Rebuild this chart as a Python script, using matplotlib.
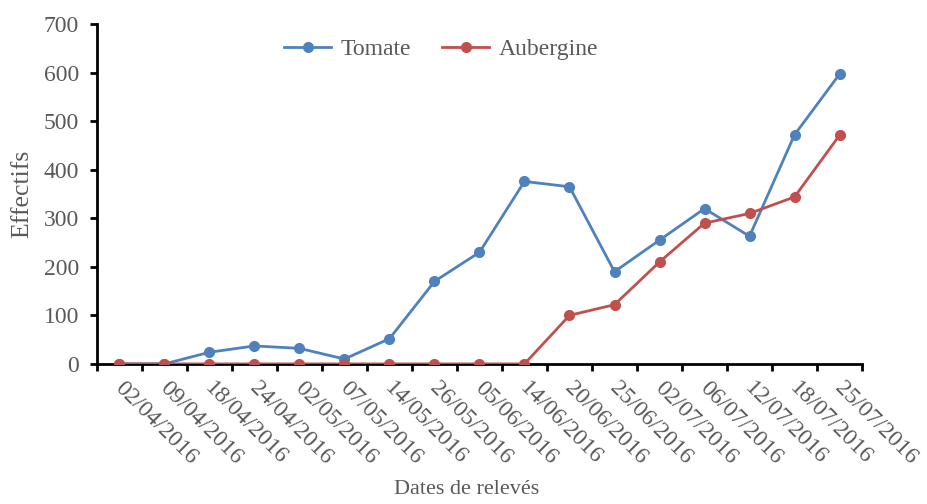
import matplotlib
matplotlib.use("Agg")
import matplotlib.pyplot as plt
import matplotlib.transforms as mtransforms
import numpy as np

dates = ["02/04/2016", "09/04/2016", "18/04/2016", "24/04/2016", "02/05/2016",
         "07/05/2016", "14/05/2016", "26/05/2016", "05/06/2016", "14/06/2016",
         "20/06/2016", "25/06/2016", "02/07/2016", "06/07/2016", "12/07/2016",
         "18/07/2016", "25/07/2016"]
tomate = [0, 0, 24, 37, 32, 10, 52, 170, 230, 376, 365, 190, 255, 320, 263, 472, 597]
aubergine = [0, 0, 0, 0, 0, 0, 0, 0, 0, 0, 100, 122, 210, 290, 310, 344, 471]
y_ticks = [0, 100, 200, 300, 400, 500, 600, 700]

plt.rcParams["font.family"] = ["Liberation Serif", "DejaVu Serif"]
grey = "#595959"

fig = plt.figure(figsize=(9.27, 5.04), dpi=100)
ax = fig.add_axes([0.1046, 0.278, 0.8253, 0.674])

x = np.arange(len(dates))
ax.plot(x, tomate, color="#4F81BD", lw=2, marker="o", ms=7, label="Tomate", zorder=3)
ax.plot(x, aubergine, color="#C0504D", lw=2, marker="o", ms=7, label="Aubergine", zorder=3)

ax.set_xlim(-0.5, len(dates) - 0.5)
ax.set_ylim(0, 700)
ax.set_yticks(y_ticks)
ax.set_yticklabels([str(v) for v in y_ticks], fontsize=17, color=grey)

ax.set_xticks(np.arange(len(dates) + 1) - 0.5)
ax.set_xticklabels([])
ax.set_xticks(x, minor=True)
ax.set_xticklabels(dates, minor=True, rotation=-45, ha="left", va="top",
                   rotation_mode="anchor", fontsize=17, color=grey)
ax.tick_params(axis="x", which="minor", length=0, pad=10)
ax.tick_params(axis="x", which="major", length=5, width=2, direction="out", color="black")
ax.tick_params(axis="y", length=5, width=2, direction="out", color="black", pad=8)

# nudge the rotated date labels to the right of each category centre
shift = mtransforms.ScaledTranslation(6 / 100, 0, fig.dpi_scale_trans)
for lab in ax.get_xticklabels(minor=True):
    lab.set_transform(lab.get_transform() + shift)

for s in ["top", "right"]:
    ax.spines[s].set_visible(False)
for s in ["left", "bottom"]:
    ax.spines[s].set_linewidth(2)
    ax.spines[s].set_color("black")

fig.text(22 / 927, 1 - 194 / 504, "Effectifs", fontsize=18.5, color=grey,
         rotation=90, ha="center", va="center")
fig.text(466.5 / 927, 1 - 489 / 504, "Dates de relevés", fontsize=16, color=grey,
         ha="center", va="center")

leg = ax.legend(loc="upper center", bbox_to_anchor=(0.45, 1.0), ncol=2, frameon=False,
                fontsize=17, handlelength=2.0, handletextpad=0.4, columnspacing=1.3,
                borderaxespad=0.2)
for t in leg.get_texts():
    t.set_color(grey)

fig.savefig("out.png", dpi=100)
